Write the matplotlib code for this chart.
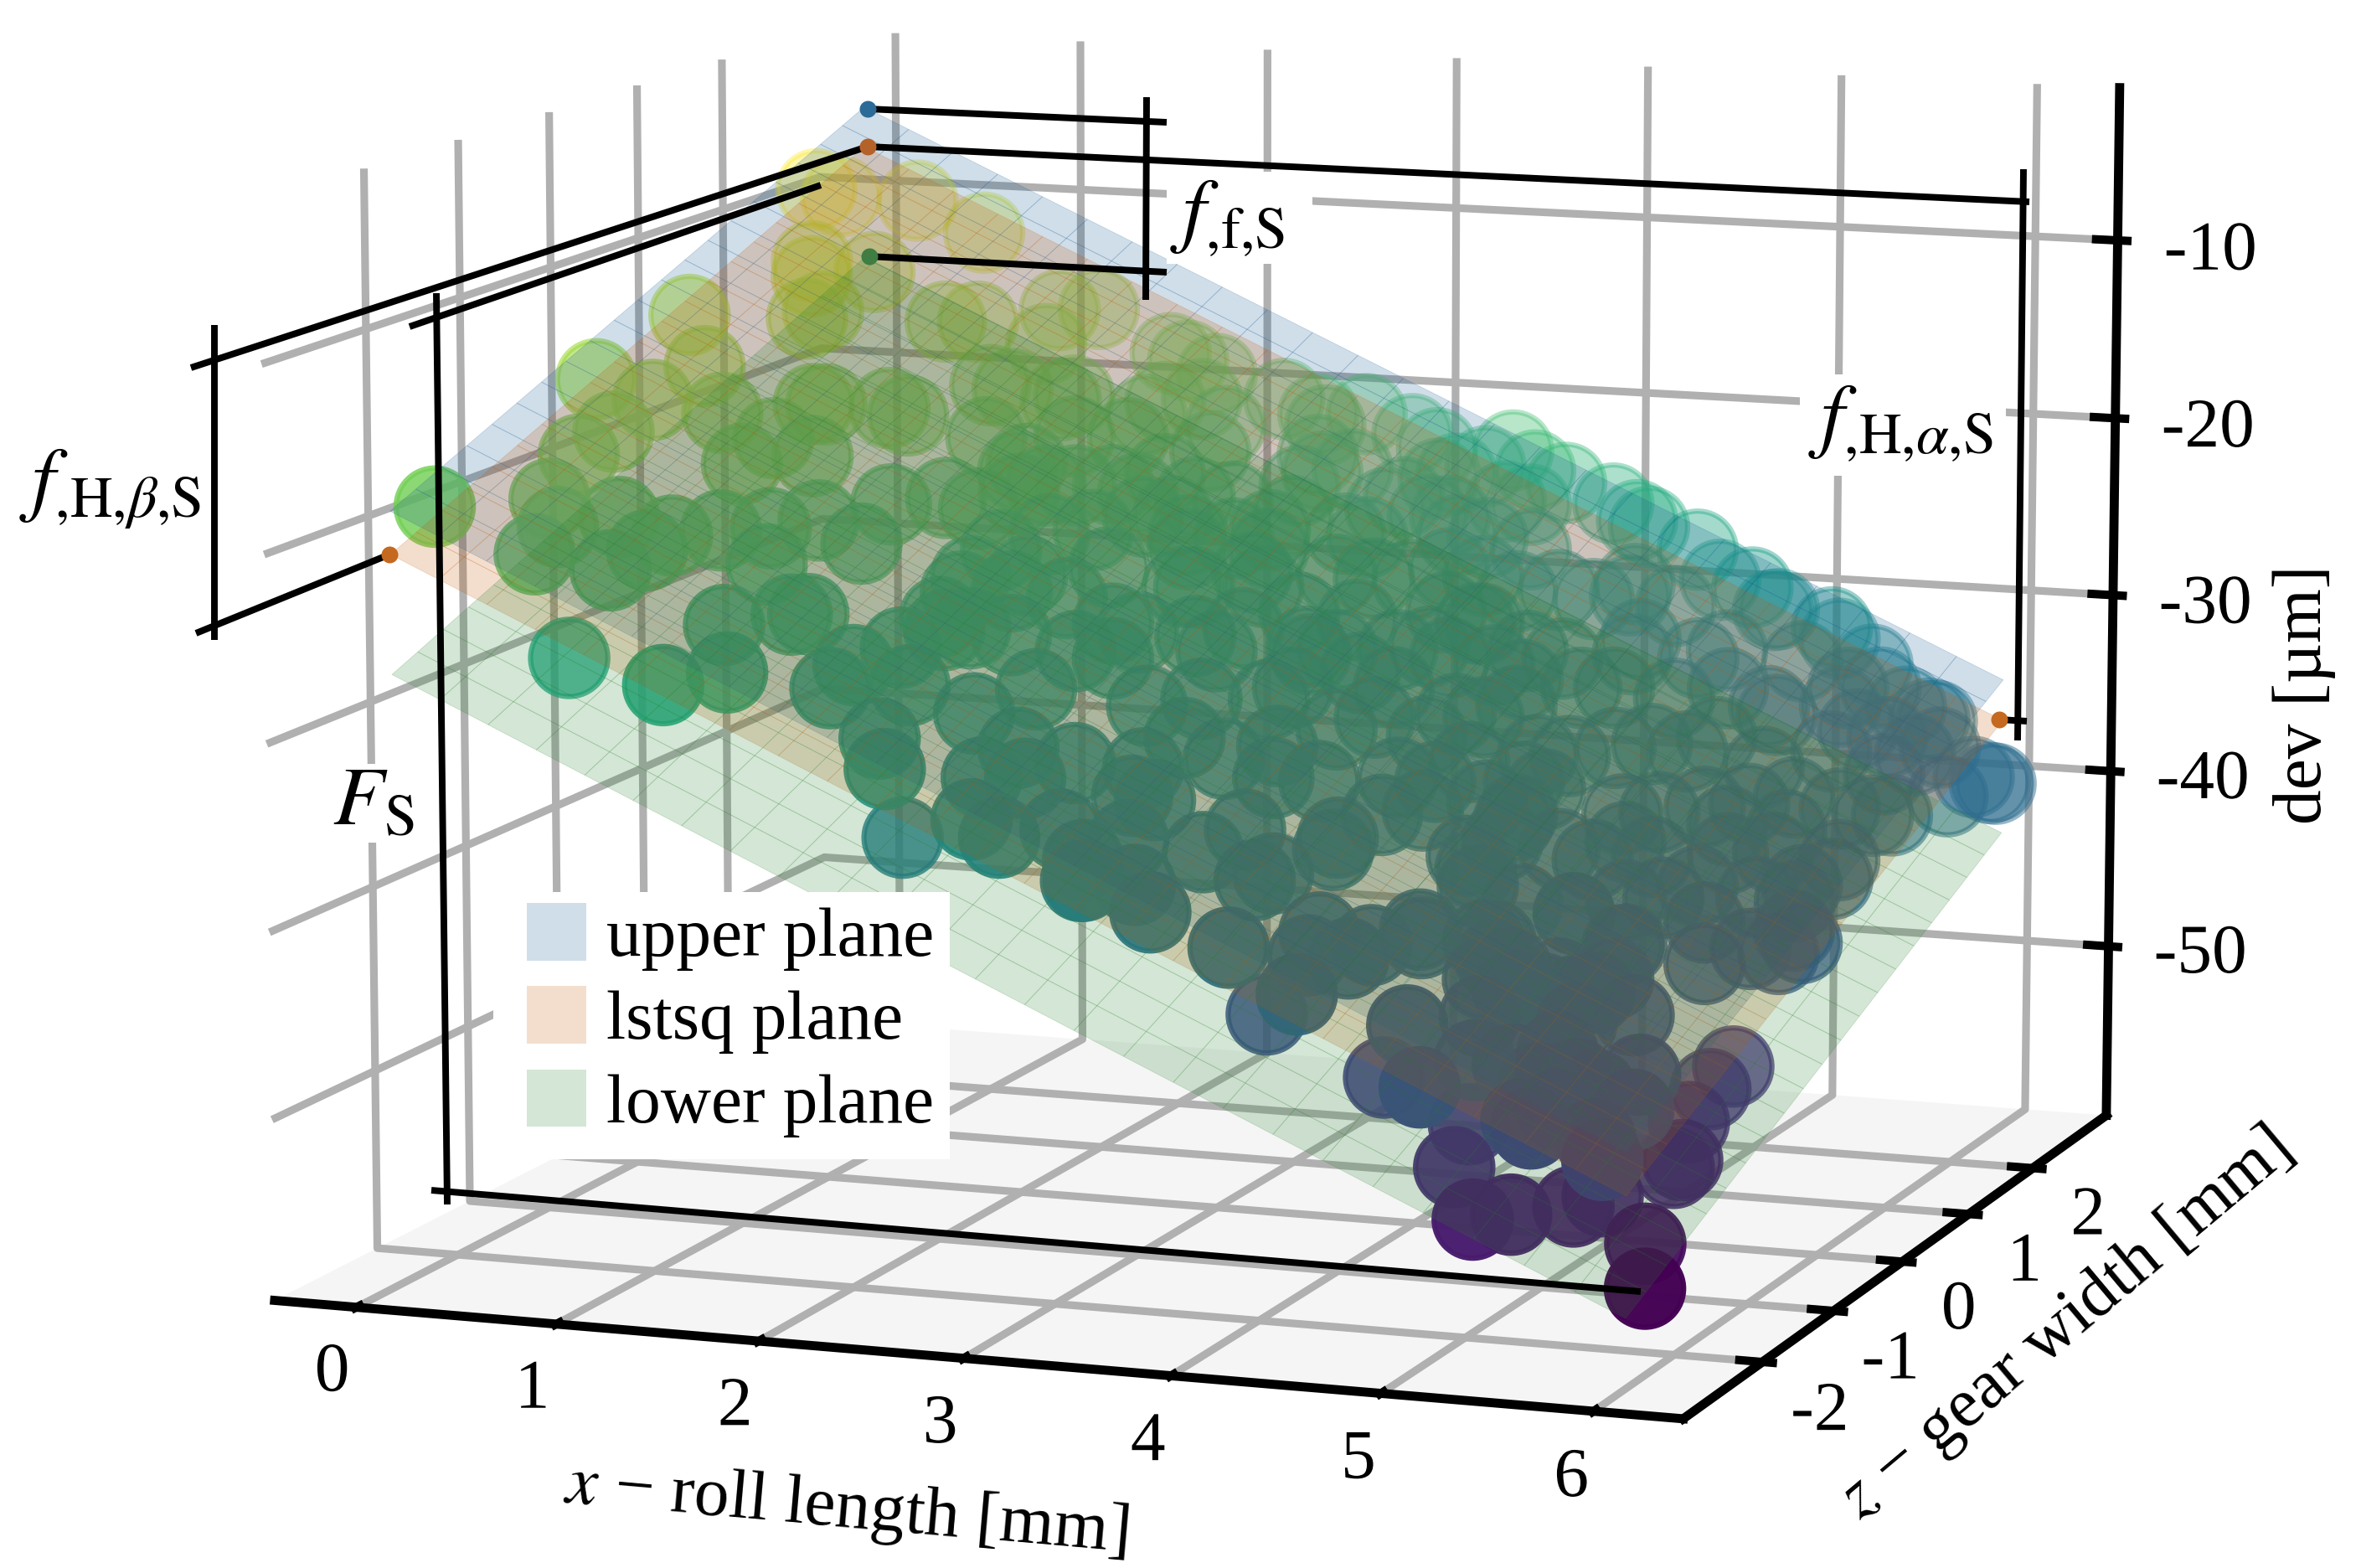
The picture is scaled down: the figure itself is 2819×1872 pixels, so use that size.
import numpy as np
import matplotlib
matplotlib.use('Agg')
from matplotlib import pyplot as plt
from matplotlib import patheffects
from matplotlib.lines import Line2D
from matplotlib.patches import Patch, Rectangle

plt.rcParams['font.family'] = ['Liberation Serif', 'DejaVu Serif']
plt.rcParams['mathtext.fontset'] = 'stix'
plt.rcParams['axes.unicode_minus'] = False
plt.rcParams['axes.linewidth'] = 2.6
plt.rcParams['grid.color'] = '#b0b0b0'
plt.rcParams['grid.linewidth'] = 2.2

FW, FH = 2819, 1872

# measured points
roll_x = [
 -0.28,-0.33,-0.05,0.31,-0.17,-0.11,0.08,0.03, 0.06,-0.38,-0.13,-0.44,-0.17,-0.18,-0.21,0.11,
 0.38,0.42,0.65,0.74,0.37,0.36,0.57,-0.32, -0.14,-0.01,0.15,0.01,0.32,0.39,0.36,0.53,
 0.69,0.81,0.82,0.88,1.07,1.12,1.06,0.07, 0.89,1.05,1.01,1.17,0.52,1.45,1.45,1.54,
 1.70,1.57,1.55,0.63,0.87,1.00,0.95,1.42, 1.51,1.66,1.99,2.17,2.23,2.34,2.57,2.71,
 3.13,2.95,3.28,1.21,1.24,1.00,0.91,1.56, 1.58,1.70,1.88,1.92,1.58,1.32,1.32,1.40,
 2.31,2.38,2.48,2.76,2.73,2.87,2.82,2.99, 3.20,3.24,2.43,2.40,2.46,2.68,2.77,2.91,
 3.08,1.84,1.81,2.02,2.01,2.13,1.65,1.97, 1.72,1.54,1.72,1.91,2.48,2.57,2.29,2.33,
 2.79,3.01,3.07,3.30,3.44,3.48,3.71,3.35, 1.87,2.18,2.29,2.29,2.50,2.62,2.92,2.96,
 3.25,3.46,2.14,2.01,2.27,2.40,2.25,2.57, 2.73,2.80,2.76,2.81,2.90,2.96,3.14,3.23,
 3.29,3.39,3.63,3.66,3.66,3.85,3.72,3.64, 3.30,3.23,2.68,2.50,2.94,2.85,3.85,4.11,
 4.20,4.14,1.57,1.39,1.09,1.32,1.47,1.70, 2.17,2.30,2.35,2.93,2.78,2.64,2.18,1.79,
 1.93,1.53,1.71,2.14,3.04,3.01,3.19,3.31, 3.16,3.64,3.86,3.80,3.40,3.00,2.51,2.35,
 4.04,3.36,3.14,3.39,3.43,3.67,3.81,4.13, 3.88,4.18,4.45,4.47,4.49,4.87,4.81,5.01,
 5.38,5.42,5.51,5.80,5.82,5.72,5.68,5.26, 5.11,5.28,4.99,4.81,4.76,4.35,4.10,3.90,
 3.88,3.78,3.63,4.08,4.14,4.02,3.86,4.60, 4.66,4.92,5.12,5.38,5.46,5.53,5.32,5.12,
 4.98,4.97,4.45,4.33,4.21,4.08,4.19,4.56, 4.65,4.79,5.05,5.21,5.19,5.47,5.50,5.41,
 5.43,5.04,4.95,5.17,4.22,4.48,4.68,4.95, 4.83,4.27,4.50,4.63,5.41,5.52,5.57,5.51,
 5.29,4.93,4.70,4.10,4.43,4.39,4.55,4.74, 3.79,3.47,3.77,4.19,4.83,5.02,4.44,4.68,
 4.59,5.28,5.15,5.44,1.63,1.90,1.78,1.79, 2.91,3.24,3.10,2.92,3.61,3.57,3.98,3.49,
 3.53,3.66,3.87,4.04,3.90,4.08,4.20,4.23, 4.44,4.16,4.66,4.59,4.55,4.71,4.66,4.77,
 4.66,4.87,4.99,5.18,5.25,5.15,5.10,5.19, 5.40,5.17,5.38,4.56,4.69,4.96,5.53,5.65,
 4.99,5.19,4.81,5.01,4.91,5.03,5.45,4.21, 4.82,5.01,5.27,5.05,4.45,5.35,5.33,5.35,
 5.43,5.42,5.48]
gear_z = [
 2.84,3.26,3.58,3.59,2.53,2.39,2.73,2.01, 2.14,1.52,1.14,0.56,0.62,0.19,-0.14,0.81,
 1.29,1.35,1.59,1.61,0.83,0.48,0.84,-1.49, -0.62,-0.81,-0.47,-1.11,-0.94,-0.40,-0.62,-0.15,
 0.07,-0.25,0.34,-0.90,-0.55,-0.47,-1.27,-0.87, -1.61,0.32,0.77,1.07,2.60,-0.97,-0.70,-0.35,
 -0.62,0.05,0.35,2.75,3.23,3.43,2.86,3.35, 3.36,3.37,3.45,3.46,3.40,3.69,3.73,3.71,
 3.67,3.76,3.58,2.42,2.52,2.31,2.24,2.68, 2.88,3.07,2.93,2.63,2.39,1.61,1.72,1.43,
 3.09,2.97,3.13,3.11,2.93,3.56,3.44,3.15, 3.12,3.63,2.44,2.21,2.04,2.51,2.58,3.05,
 3.01,2.23,1.95,2.17,1.91,1.81,1.21,1.18, 0.76,0.87,0.57,1.77,1.77,1.69,1.34,1.39,
 2.11,1.81,2.41,2.27,2.30,2.78,2.31,1.91, 0.20,0.72,0.77,0.45,0.98,0.95,1.37,1.32,
 1.73,1.89,-0.14,-0.58,-0.67,-0.90,-1.06,0.19, 0.48,0.09,-0.33,-0.59,-0.53,0.77,0.42,0.14,
 0.81,1.06,1.13,1.44,0.66,0.49,0.29,-0.08, -0.40,-0.75,-1.15,-1.45,-0.96,-1.29,1.77,1.17,
 0.78,0.31,1.74,2.16,1.76,1.12,1.60,1.90, 2.30,1.98,2.74,2.25,1.63,1.25,1.68,1.43,
 0.75,0.52,0.09,0.35,1.47,0.96,1.38,2.76, 2.68,2.03,1.09,0.79,0.30,0.09,-0.56,-1.42,
 0.85,1.39,3.54,3.22,3.62,3.65,3.61,3.61, 3.59,3.81,3.52,3.78,3.81,3.51,3.81,3.73,
 3.51,3.51,3.29,3.19,3.22,3.18,2.89,3.51, 3.56,3.16,3.41,2.85,2.88,3.00,2.74,3.26,
 3.38,3.06,2.97,2.91,2.36,2.22,2.39,2.13, 2.39,2.34,2.77,2.81,2.40,2.48,2.31,2.21,
 1.95,1.66,2.04,1.85,1.19,1.44,0.86,1.31, 1.10,1.09,1.44,1.64,1.89,1.86,1.67,1.48,
 1.32,1.03,0.80,0.76,0.58,0.14,0.30,0.23, 0.61,0.11,-0.27,-0.41,0.73,0.82,1.01,1.07,
 0.42,-0.34,-0.57,3.37,3.20,2.53,2.87,3.44, 2.02,2.34,1.53,1.59,1.73,3.20,0.76,1.50,
 0.81,1.19,3.09,3.11,-0.04,-1.38,-1.16,-0.92, -1.46,-1.43,-1.27,-1.45,-1.39,-0.81,-1.48,-0.76,
 -0.63,-0.19,-0.91,-0.98,-1.13,-0.79,-0.47,-0.53, -1.27,-0.83,-1.69,-0.86,-0.41,-0.51,-0.91,-1.27,
 -1.24,-1.56,-1.38,-1.07,-0.87,-1.56,-1.55,-1.31, -1.39,-1.01,-0.73,-0.60,0.28,0.25,-1.07,-1.41,
 -0.26,-0.29,-0.47,-0.57,-1.15,-0.88,-1.02,0.24, -0.29,-0.07,-1.02,-1.19,-0.30,0.67,0.40,0.04,
 -0.28,-0.37,-1.52]
dev = [
 -10.1,-11.2,-11.8,-13.5,-13.7,-14.3,-14.5,-16.0, -15.8,-15.2,-17.3,-17.2,-18.3,-19.3,-20.0,-19.2,
 -19.4,-19.5,-20.0,-20.4,-20.5,-21.3,-21.4,-20.4, -21.5,-22.6,-22.6,-23.5,-24.5,-23.6,-24.0,-23.7,
 -23.9,-25.2,-23.9,-27.2,-27.2,-27.3,-28.9,-29.6, -29.0,-25.0,-23.7,-23.8,-16.9,-30.1,-29.4,-29.1,
 -30.5,-28.2,-27.4,-17.1,-17.1,-17.3,-18.4,-19.5, -19.9,-20.6,-22.0,-22.8,-23.3,-23.1,-24.2,-24.9,
 -24.7,-25.9,-25.6,-20.7,-20.6,-20.0,-19.7,-21.8, -21.4,-21.5,-22.7,-23.6,-22.6,-23.2,-23.0,-24.1,
 -24.4,-25.1,-25.2,-26.6,-26.9,-26.0,-26.1,-27.6, -28.7,-27.7,-26.6,-27.0,-27.7,-27.6,-27.9,-27.4,
 -28.4,-24.2,-24.8,-25.3,-25.9,-26.7,-25.8,-27.4, -27.2,-26.1,-27.7,-25.7,-28.5,-29.1,-28.6,-28.7,
 -29.1,-30.9,-29.8,-31.2,-31.8,-30.9,-33.2,-32.4, -29.3,-29.5,-30.0,-30.8,-30.5,-31.2,-31.6,-31.9,
 -32.3,-32.9,-31.4,-31.9,-33.4,-34.5,-34.2,-32.7, -32.8,-34.1,-34.9,-35.8,-36.1,-33.3,-35.0,-36.1,
 -34.8,-34.6,-35.6,-35.0,-36.9,-38.2,-38.1,-38.6, -37.7,-38.2,-36.5,-36.4,-37.3,-37.7,-35.1,-37.9,
 -39.2,-40.1,-24.1,-22.2,-21.7,-24.4,-23.9,-24.3, -25.7,-27.1,-25.5,-29.5,-30.3,-30.5,-27.2,-25.9,
 -28.3,-26.9,-28.8,-30.3,-31.9,-33.0,-32.9,-30.1, -29.6,-33.5,-36.8,-37.3,-36.5,-35.1,-34.3,-35.6,
 -38.3,-33.6,-27.4,-29.4,-26.3,-27.4,-28.2,-29.7, -28.5,-31.8,-31.5,-33.3,-33.3,-33.5,-34.8,-36.0,
 -38.4,-38.5,-39.5,-41.1,-41.2,-40.8,-41.3,-37.8, -36.9,-38.8,-36.7,-37.2,-36.8,-34.6,-34.0,-31.8,
 -31.4,-31.7,-31.1,-33.5,-35.1,-34.9,-33.7,-37.9, -37.6,-39.0,-38.9,-40.1,-41.5,-41.6,-41.0,-40.3,
 -40.2,-40.8,-37.4,-37.3,-38.3,-37.0,-39.0,-39.7, -40.7,-41.4,-41.8,-42.1,-41.4,-42.8,-43.4,-43.4,
 -43.9,-42.7,-42.9,-44.0,-39.8,-42.1,-42.8,-44.2, -42.7,-41.2,-43.2,-44.2,-45.2,-45.6,-45.4,-44.9,
 -45.4,-45.6,-45.0,-32.5,-34.5,-35.9,-35.9,-35.4, -34.2,-31.9,-35.3,-37.3,-40.0,-37.3,-40.5,-39.9,
 -41.1,-43.5,-38.3,-39.6,-28.7,-33.3,-32.2,-38.1, -38.4,-39.9,-38.9,-38.4,-41.6,-46.6,-43.6,-39.5,
 -39.4,-39.0,-41.7,-42.8,-42.4,-42.5,-42.3,-42.6, -45.4,-49.5,-47.5,-51.6,-43.8,-44.9,-45.6,-47.0,
 -52.9,-54.7,-54.8,-55.0,-54.9,-49.6,-49.2,-49.2, -50.4,-48.3,-48.6,-44.4,-42.8,-44.2,-56.7,-58.1,
 -45.6,-46.6,-45.3,-46.5,-47.4,-47.3,-49.7,-40.6, -44.9,-45.3,-48.8,-48.2,-43.1,-51.6,-52.2,-53.1,
 -54.3,-54.5,-51.1]

# fitted planes dev = a + b*x + c*z + offset
plane_x = (-0.446, 5.661)
plane_z = (-1.703, 3.826)
plane_a, plane_b, plane_c = -20.695, -4.868, 2.428
plane_off = [2.338, 0.0, -6.5]
plane_names = ['upper plane', 'lstsq plane', 'lower plane']
plane_cols = ['#145A91', '#C35A0A', '#28822D']

x_ticks = [0, 1, 2, 3, 4, 5, 6]
z_ticks = [-2, -1, 0, 1, 2]
dev_ticks = [-50, -40, -30, -20, -10]


def pt(px, py):
    return px / FW, 1 - py / FH


def white_block(left, top, right, bottom, zorder):
    x1, y1 = pt(left, bottom)
    x2, y2 = pt(right, top)
    fig.add_artist(Rectangle((x1, y1), x2-x1, y2-y1, transform=fig.transFigure, facecolor='white',
                             edgecolor='none', zorder=zorder))


fig = plt.figure(figsize=(FW/300, FH/300), dpi=300)
ax = fig.add_axes([0.03151, -0.1642, 0.94679, 1.42574], projection='3d')
ax.view_init(elev=10, azim=-70)
ax.set_box_aspect((4, 4, 3))
ax.patch.set_visible(False)
ax.computed_zorder = False

ax.scatter(roll_x, gear_z, dev, c=dev, cmap='viridis', s=490, linewidths=1.5, zorder=1)

gx, gz = np.meshgrid(np.linspace(*plane_x, 26), np.linspace(*plane_z, 21))
for i in range(3):
    ax.plot_surface(gx, gz, plane_a + plane_b*gx + plane_c*gz + plane_off[i], color=plane_cols[i],
                    alpha=0.2, shade=False, linewidth=0.2, edgecolor=plane_cols[i], zorder=2+i)

ax.set_xlim(-0.413, 6.418)
ax.set_ylim(-3.07, 3.194)
ax.set_zlim(-59.702, -1.453)
ax.set_xticks(x_ticks)
ax.set_yticks(z_ticks)
ax.set_zticks(dev_ticks)
for axis, pane in ((ax.xaxis, (1, 1, 1, 0)), (ax.yaxis, (1, 1, 1, 0)), (ax.zaxis, '#f5f5f5')):
    axis.set_pane_color(pane)
    axis.pane.set_edgecolor('none')
    axis._axinfo['tick'].update(inward_factor=0.09, outward_factor=0.2, linewidth={True: 2.4, False: 1})
ax.xaxis._axinfo['tick'].update(inward_factor=0.03, outward_factor=0.07)
ax.tick_params(labelsize=20)
ax.tick_params(axis='x', pad=-1)
ax.tick_params(axis='y', pad=-1)
ax.tick_params(axis='z', pad=12)
# nudge the tick labels (points)
for axis, off in ((ax.xaxis, (-3.4, -1.7)), (ax.yaxis, (7.8, 1.7)), (ax.zaxis, (-3.0, 3.5))):
    for t in axis.get_major_ticks():
        t.label1.set_path_effects([patheffects.Stroke(linewidth=0, foreground='k', offset=off)])

# axis titles
fig.text(*pt(1010, 1803), '$x$ − roll length [mm]', fontsize=20, rotation=-5, ha='center', va='center', rotation_mode='anchor')
fig.text(*pt(2467, 1582), '$z$ − gear width [mm]', fontsize=20, rotation=40, ha='center', va='center', rotation_mode='anchor')
fig.text(*pt(2751, 829), 'dev [µm]', fontsize=20, rotation=90, ha='center', va='center', rotation_mode='anchor')

# annotation labels, the white gaps they leave in the grid
white_block(1393, 205, 1567, 315, 1.4)
white_block(2149, 447, 2395, 568, 1.4)
white_block(396, 912, 496, 1006, 1.4)
for px, py, lab in ((2269, 505, r'$f_{{,}\mathrm{H}{,}\alpha{,}\mathrm{S}}$'), (1466, 260, r'$f_{{,}\mathrm{f}{,}\mathrm{S}}$'),
                    (132, 584, r'$f_{{,}\mathrm{H}{,}\beta{,}\mathrm{S}}$'), (446, 960, r'$F_{\mathrm{S}}$')):
    fig.text(*pt(px, py), lab, fontsize=24, ha='center', va='center', zorder=1.5)

# annotation brackets
brackets = [((1036, 130), (1393, 146)), ((1036, 175), (2423, 241)), ((1037, 306), (1393, 325)),
            ((1369, 116), (1368, 358)), ((2416, 202), (2409, 884)), ((2387, 859), (2420, 861)),
            ((1036, 175), (228, 439)), ((465, 662), (234, 756)), ((256, 388), (256, 764)),
            ((980, 221), (489, 390)), ((521, 350), (534, 1438)), ((515, 1421), (1959, 1542))]
for a, b in brackets:
    xa, ya = pt(*a)
    xb, yb = pt(*b)
    fig.add_artist(Line2D([xa, xb], [ya, yb], transform=fig.transFigure, color='k', lw=1.9, solid_capstyle='butt'))
for (px, py), col in (((1036, 130), '#2c6a98'), ((1036, 175), '#b5622a'), ((1038, 306), '#3f7d42'),
                      ((465, 662), '#c4691f'), ((2387, 859), '#c4691f')):
    xa, ya = pt(px, py)
    fig.add_artist(Line2D([xa], [ya], transform=fig.transFigure, marker='o', ms=4.8, mfc=col, mec='none', ls='none'))

# legend on a white block
white_block(589, 1065, 1134, 1384, 1.6)
handles = [Patch(facecolor=c, alpha=0.2, edgecolor='none') for c in plane_cols]
fig.legend(handles, plane_names, loc='upper left', bbox_to_anchor=pt(629, 1078), borderaxespad=0,
           fontsize=20, frameon=False, handlelength=0.85, handleheight=0.89, handletextpad=0.29,
           labelspacing=0.22, borderpad=0)

fig.savefig('out.png', dpi=300)
